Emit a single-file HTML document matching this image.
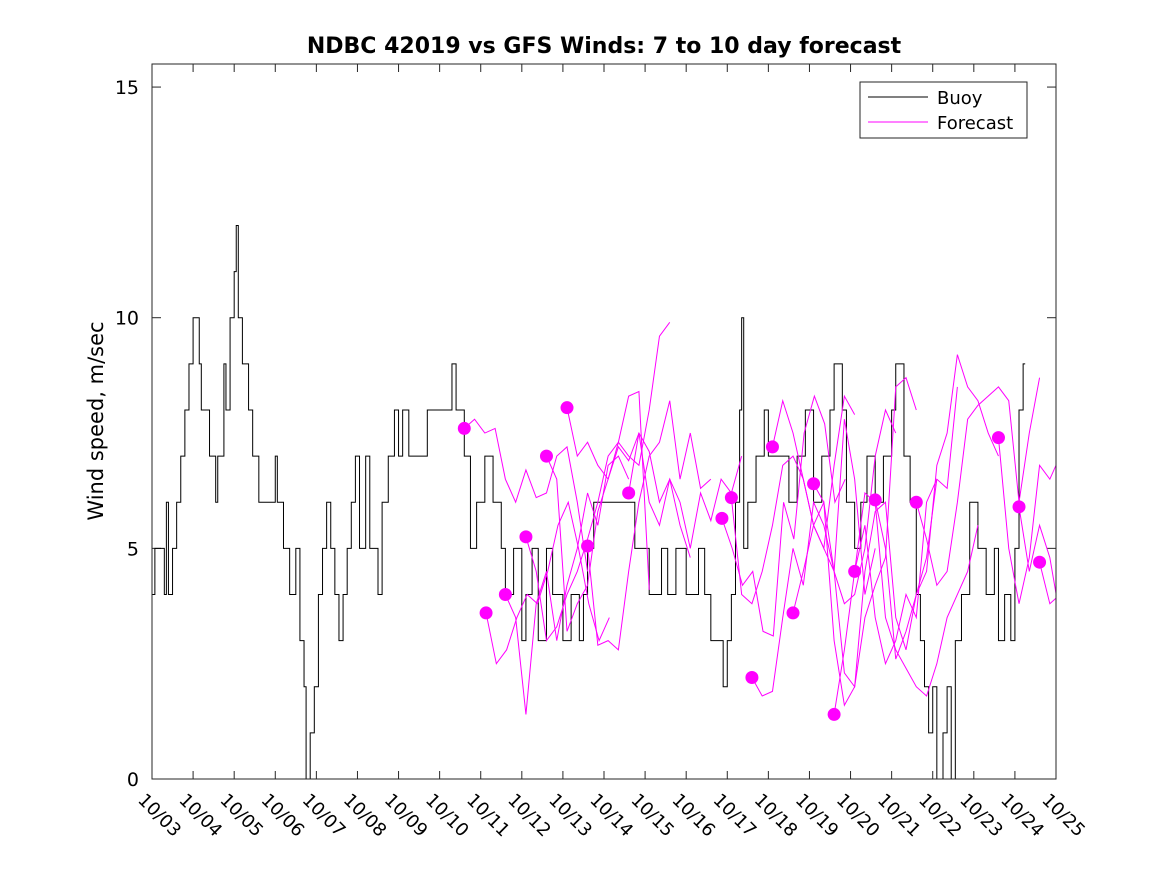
<!DOCTYPE html>
<html><head><meta charset="utf-8"><style>
body{margin:0;background:#fff}
svg{display:block;font-family:"DejaVu Sans","Liberation Sans",sans-serif}
</style></head><body>
<svg id="c" width="1167" height="875">
<rect x="0" y="0" width="1167" height="875" fill="#fff"/>
<text x="604" y="53" text-anchor="middle" font-size="22" font-weight="bold">NDBC 42019 vs GFS Winds: 7 to 10 day forecast</text>
<text transform="translate(103,421) rotate(-90)" text-anchor="middle" font-size="21">Wind speed, m/sec</text>
<defs><clipPath id="pc"><rect x="152" y="64" width="904" height="715"/></clipPath></defs>
<g id="grid"></g>
<g id="buoy" clip-path="url(#pc)"></g>
<g id="fc" clip-path="url(#pc)"></g>
<rect x="152" y="64" width="904" height="715" fill="none" stroke="#262626" stroke-width="1"/>
<g>
<rect x="860" y="82" width="167" height="56" fill="#fff" stroke="#262626"/>
<line x1="868" y1="97" x2="928" y2="97" stroke="#000"/>
<text x="937" y="104" font-size="18">Buoy</text>
<line x1="868" y1="122" x2="928" y2="122" stroke="#f0f"/>
<text x="937" y="129" font-size="18">Forecast</text>
</g>
</svg>
<script>
const xTickLabels=["10/03","10/04","10/05","10/06","10/07","10/08","10/09","10/10","10/11","10/12","10/13","10/14","10/15","10/16","10/17","10/18","10/19","10/20","10/21","10/22","10/23","10/24","10/25"];
const yTicks=[0,5,10,15];
// buoy: day offsets from 10/03 and step values
const buoyT=[0,0.07,0.3,0.35,0.4,0.5,0.6,0.7,0.8,0.9,1.0,1.15,1.2,1.4,1.55,1.6,1.75,1.8,1.9,2.0,2.05,2.1,2.2,2.35,2.45,2.6,2.85,3.0,3.05,3.2,3.35,3.5,3.6,3.7,3.75,3.85,3.95,4.05,4.15,4.25,4.35,4.45,4.55,4.65,4.75,4.85,4.95,5.05,5.2,5.3,5.5,5.6,5.75,5.9,6.0,6.1,6.25,6.5,6.7,7.0,7.3,7.4,7.6,7.75,7.9,8.1,8.3,8.5,8.6,8.8,9.0,9.1,9.25,9.4,9.6,9.75,10.0,10.2,10.4,10.5,10.6,10.75,11.5,11.75,12.1,12.4,12.55,12.75,13.0,13.3,13.45,13.6,13.9,14.0,14.1,14.2,14.3,14.35,14.4,14.5,14.7,14.9,15.0,15.3,15.5,15.7,15.9,16.1,16.3,16.5,16.6,16.8,16.9,17.1,17.25,17.4,17.6,17.8,18.0,18.1,18.3,18.45,18.6,18.7,18.8,18.9,19.0,19.1,19.25,19.35,19.45,19.55,19.7,19.9,20.1,20.3,20.5,20.6,20.75,20.9,21.0,21.1,21.2,21.25];
const buoyV=[4,5,4,6,4,5,6,7,8,9,10,9,8,7,6,7,9,8,10,11,12,10,9,8,7,6,6,7,6,5,4,5,3,2,0,1,2,4,5,6,5,4,3,4,5,6,7,5,7,5,4,6,7,8,7,8,7,7,8,8,9,8,7,5,6,7,6,5,4,5,3,4,5,3,5,4,3,4,3,4,5,6,6,5,4,5,4,5,4,5,4,3,2,3,4,6,8,10,5,6,7,8,7,7,6,7,8,6,7,8,9,8,6,5,6,7,6,7,8,9,7,6,4,3,2,1,2,0,1,2,0,3,4,6,5,4,5,3,4,3,5,8,9,9];
const fcStart=[7.6,8.13,8.6,9.1,9.6,10.1,10.6,11.6,13.87,14.1,14.6,15.1,15.6,16.1,16.6,17.1,17.6,18.6,20.6,21.1,21.6];
const fcValues=[
[7.6,7.8,7.5,7.6,6.5,6.0,6.7,6.1,6.2,7.0,7.2,6.0,4.5],
[3.6,2.5,2.8,3.5,4.0,3.8,4.5,5.5,6.0,5.0,3.8,3.0,3.5],
[4.0,3.5,1.4,3.8,4.5,3.0,4.2,5.0,6.2,5.5,6.8,7.0,6.5],
[5.25,4.5,3.0,3.3,4.0,4.5,5.2,6.0,7.0,7.3,8.3,8.4,4.1],
[7.0,6.5,3.2,3.8,4.2,5.8,6.5,7.3,7.0,6.8,8.0,9.6,9.9],
[8.05,7.0,7.3,6.8,6.5,7.2,6.9,7.5,7.1,6.0,6.5,5.5,4.8],
[5.05,2.9,3.0,2.8,4.5,6.0,7.0,7.3,8.2,6.5,7.5,6.3,6.5],
[6.2,7.5,6.0,5.5,6.5,6.0,5.0,6.2,5.6,6.5,6.2,7.0],
[5.65,5.0,4.2,4.5,3.2,3.1,6.0,5.2,7.5,8.3,7.7,6.0,6.5],
[6.1,4.0,3.8,4.5,5.5,6.8,7.0,6.5,5.5,5.0,6.8,8.3,7.9],
[2.2,1.8,1.9,3.5,5.0,4.2,6.0,5.5,4.5,7.8,6.5,4.0,5.0],
[7.2,8.2,7.5,6.5,5.5,5.0,4.5,3.8,4.0,5.0,7.0,8.0,7.5],
[3.6,4.5,5.5,6.0,4.5,2.3,2.0,3.5,4.2,4.8,8.5,8.7,8.0],
[6.4,6.0,3.0,1.6,2.0,4.5,5.8,6.0,3.5,2.8,4.0,4.8,6.5],
[1.4,2.8,4.5,5.5,3.5,2.5,3.0,4.0,3.5,6.0,6.5,6.3,8.5],
[4.5,6.2,6.0,3.5,2.8,2.4,2.0,1.8,2.5,3.5,4.0,4.5,5.5],
[6.05,5.0,2.6,3.2,4.0,4.5,6.8,7.5,9.2,8.5,8.2,7.5,7.0],
[6.0,5.2,4.2,4.5,6.0,7.8,8.1,8.3,8.5,8.2,6.0,7.5,8.7],
[7.4,5.0,3.8,4.8,6.8,6.5,7.0,7.5,6.5,7.1,6.8,6.2,5.8],
[5.9,4.5,5.5,4.8,3.5,2.1,2.0,1.0,3.0,3.5,3.2,5.5,4.8],
[4.7,3.8,4.0,2.2,2.0,4.0,5.0]];
const NS="http://www.w3.org/2000/svg";
const X=d=>152+d*(904/22), Y=v=>779-v*(715/15.5);
function mk(t,a,p){const e=document.createElementNS(NS,t);for(const k in a)e.setAttribute(k,a[k]);p.appendChild(e);return e;}
const grid=document.getElementById('grid');
xTickLabels.forEach((l,i)=>{const x=X(i);
 const t1=mk('line',{x1:x,y1:779,x2:x,y2:771,stroke:'#262626'},grid);
 
 
 mk('line',{x1:x,y1:64,x2:x,y2:72,stroke:'#262626'},grid);
 const tx=mk('text',{x:x-15,y:801,'font-size':18,transform:`rotate(45 ${x-15} 801)`},grid);
 tx.textContent=l;
 
 
});
yTicks.forEach(v=>{const y=Y(v);
 mk('line',{x1:152,y1:y,x2:161,y2:y,stroke:'#262626'},grid);
 mk('line',{x1:1056,y1:y,x2:1047,y2:y,stroke:'#262626'},grid);
 const tx=mk('text',{x:139,y:y+7,'font-size':19,'text-anchor':'end'},grid);
 tx.textContent=v;
 
 
});
let d='';buoyV.forEach((v,i)=>{if(i===buoyV.length-1)return;const x0=X(buoyT[i]),x1=X(buoyT[i+1]);d+=(i?'L':'M')+x0+','+Y(v)+'L'+x1+','+Y(v);});
const bp=mk('path',{d:d,fill:'none',stroke:'#000','stroke-width':1},document.getElementById('buoy'));


const fc=document.getElementById('fc');
fcValues.forEach((vals,k)=>{const s=fcStart[k];
 const p=mk('path',{d:vals.map((v,i)=>(i?'L':'M')+X(s+i*0.25)+','+Y(v)).join(''),fill:'none',stroke:'#f0f','stroke-width':1},fc);
 
 
});
fcValues.forEach((vals,k)=>{
 const c=mk('circle',{cx:X(fcStart[k]),cy:Y(vals[0]),r:6.5,fill:'#f0f'},fc);
 
 
});
</script>
</body></html>
